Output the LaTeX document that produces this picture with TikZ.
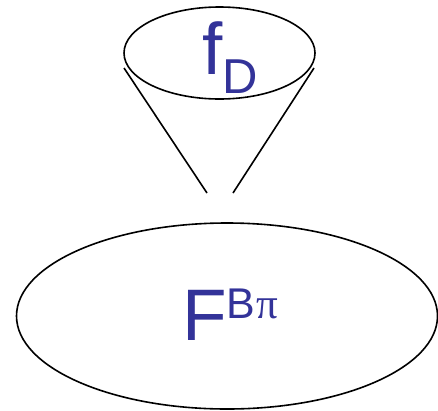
\documentclass[tikz,border=0pt]{standalone}
\usepackage{fontspec}
\setmainfont{Liberation Sans}
\newfontfamily\pifont{Liberation Serif}
\usepackage{xcolor}
\usetikzlibrary{shapes.geometric}
\definecolor{lbl}{HTML}{333399}
\tikzset{
  blob/.style={draw=black,ellipse,line width=1.6pt,inner sep=0pt},
  word/.style={text=lbl,inner sep=0pt,anchor=base west},
  cone/.style={draw=black,line width=1.6pt},
}
\newcommand{\bigtxt}[1]{{\fontsize{73}{73}\selectfont #1}}
\newcommand{\subtxt}[1]{{\fontsize{49}{49}\selectfont #1}}
\newcommand{\suptxt}[1]{{\fontsize{43}{43}\selectfont #1}}

\begin{document}
\begin{tikzpicture}[x=1pt,y=1pt]
  \useasboundingbox (0,0) rectangle (438,-410);
  \node[blob,minimum width=191pt,minimum height=92pt] (fd) at (219.5,-53) {};
  \node[blob,minimum width=421pt,minimum height=186pt] (fb) at (227,-316) {};
  \node[word] (fdtxt) at (202,-74) {\bigtxt{f}\raisebox{-19pt}{\subtxt{D}}};
  \node[word] (fbtxt) at (182,-340) {\bigtxt{F}\raisebox{22pt}{\suptxt{B\kern1pt\pifont π}}};
  \coordinate (ltop) at (124,-68);
  \coordinate (rtop) at (314,-68);
  \coordinate (lbot) at (207,-193);
  \coordinate (rbot) at (233,-193);
  \draw[cone] (ltop) -- (lbot);
  \draw[cone] (rtop) -- (rbot);
\end{tikzpicture}
\end{document}
